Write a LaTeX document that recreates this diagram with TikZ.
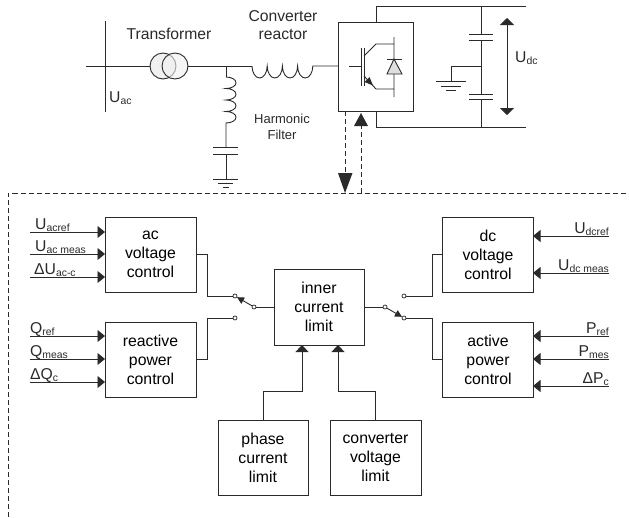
\documentclass[tikz,border=0pt]{standalone}
\usepackage{fontspec}
\setmainfont{Liberation Sans}
\usetikzlibrary{arrows.meta,calc}
\definecolor{ink}{HTML}{2A2A2A}
\tikzset{
 x=1pt,y=-1pt,
 wire/.style={draw=ink,line width=0.9pt},
 ctrl/.style={draw=ink,line width=1pt,minimum width=91pt,minimum height=75pt,inner sep=0pt,align=center,font=\fontsize{15.8}{19}\selectfont},
 lab/.style={inner sep=0pt,font=\fontsize{15.7}{18}\selectfont,align=center,text=ink},
 sig/.style={inner sep=0pt,font=\fontsize{15.7}{19}\selectfont,text=ink},
 inarrow/.style={wire,-{Triangle[length=7.5pt,width=12pt]}},
 dashline/.style={draw=ink,line width=0.9pt,dash pattern=on 5pt off 3pt},
 term/.style={circle,draw=ink,line width=0.7pt,fill=white,inner sep=0pt,minimum size=4pt},
}
\newcommand{\sbs}[1]{\raisebox{-2pt}{\fontsize{10.4}{12}\selectfont #1}}
\begin{document}
\begin{tikzpicture}
\useasboundingbox (0,0) rectangle (629,517);
% power circuit
\draw[wire,line width=1pt] (105,21) -- (105,112);
\draw[wire] (86,66) -- (150,66);
\draw[wire,fill=gray!12] (163,66) circle (13);
\draw[wire,fill=gray!12,fill opacity=.6] (175,66) circle (13);
\draw[wire] (188,66) -- (252,66);
\draw[wire] (252,66) arc[start angle=180,end angle=0,x radius=7.6,y radius=12]
 arc[start angle=180,end angle=0,x radius=7.6,y radius=12]
 arc[start angle=180,end angle=0,x radius=7.6,y radius=12]
 arc[start angle=180,end angle=0,x radius=7.6,y radius=12] -- (338,66);
\draw[wire] (226,66) -- (226,77);
\draw[wire] (226,77) arc[start angle=-90,end angle=90,x radius=10,y radius=5.75]
 arc[start angle=-90,end angle=90,x radius=10,y radius=5.75]
 arc[start angle=-90,end angle=90,x radius=10,y radius=5.75]
 arc[start angle=-90,end angle=90,x radius=10,y radius=5.75] -- (226,147);
\draw[wire] (213,147) -- (238,147) (213,154) -- (238,154) (226,154) -- (226,179);
\draw[wire] (213,179) -- (238,179) (218,183) -- (233,183) (223,187) -- (229,187);
\node[lab,anchor=center] at (169,34) {Transformer};
\node[lab,anchor=center] at (283,25) {Converter\\reactor};
\node[lab,anchor=base west] at (109,102) {U\sbs{ac}};
\node[lab,font=\fontsize{13}{16}\selectfont] at (282,127) {Harmonic\\Filter};
% converter
\node[draw=ink,line width=1pt,minimum width=75pt,minimum height=89pt,inner sep=0pt] (conv) at (375.5,66.5) {};
\draw[wire] (376,22) -- (376,6) -- (526,6);
\draw[wire] (376,111) -- (376,127) -- (526,127);
\draw[wire] (481,6) -- (481,34) (469,34) -- (493,34) (469,40) -- (493,40) (481,40) -- (481,94)
 (469,94) -- (493,94) (469,99) -- (493,99) (481,99) -- (481,127);
\draw[wire] (481,66) -- (451,66) -- (451,81) (436,81) -- (466,81) (441,86) -- (461,86) (446,90) -- (456,90);
\draw[wire,{Triangle[length=7pt,width=14pt]}-{Triangle[length=7pt,width=14pt]}] (507,18) -- (507,115);
\node[sig,anchor=base west] at (515,62) {U\sbs{dc}};
% IGBT
\draw[wire] (349,66) -- (361,66) (361,48) -- (361,86) (364,48) -- (364,86);
\draw[wire] (364,56) -- (376,44) -- (394,44) (364,76) -- (376,89) -- (394,89) (394,37) -- (394,97);
\fill[ink] (373,85.5) -- (364.5,82) -- (369.5,77) -- cycle;
\draw[wire,fill=gray!25] (394,59) -- (402,74) -- (387,74) -- cycle;
\draw[wire] (387,59) -- (402,59);
% dashed links
\draw[dashline] (8,517) -- (8,193.5) -- (629,193.5);
\draw[dashline] (345,111) -- (345,176);
\fill[ink] (345,193) -- (338,173) -- (352.5,173) -- cycle;
\draw[dashline] (361,193) -- (361,125);
\fill[ink] (361,113) -- (354,126) -- (368,126) -- cycle;
% control blocks
\node[ctrl] (acv) at (150.5,254.5) {ac\\voltage\\control};
\node[ctrl] (rpc) at (150.5,359.5) {reactive\\power\\control};
\node[ctrl] (dcv) at (488,254.5) {dc\\voltage\\control};
\node[ctrl] (apc) at (488,359.5) {active\\power\\control};
\node[ctrl,minimum width=90pt,minimum height=76pt] (icl) at (319,307) {inner\\current\\limit};
\node[ctrl,minimum width=90pt] (pcl) at (263,457.5) {phase\\current\\limit};
\node[ctrl] (cvl) at (375.5,457.5) {converter\\voltage\\limit};
% inputs
\foreach \y in {232,254,277,336,359,382} \draw[inarrow] (30,\y) -- (105,\y);
\foreach \y in {236,273,336,359,386} \draw[inarrow] (609,\y) -- (533,\y);
\node[sig,anchor=base west] at (35,229) {U\sbs{acref}};
\node[sig,anchor=base west] at (35,251) {U\sbs{ac meas}};
\node[sig,anchor=base west] at (34,274) {ΔU\sbs{ac-c}};
\node[sig,anchor=base west] at (30,333) {Q\sbs{ref}};
\node[sig,anchor=base west] at (30,356) {Q\sbs{meas}};
\node[sig,anchor=base west] at (30,379) {ΔQ\sbs{c}};
\node[sig,anchor=base east] at (609,233) {U\sbs{dcref}};
\node[sig,anchor=base east] at (609,270) {U\sbs{dc meas}};
\node[sig,anchor=base east] at (609,333) {P\sbs{ref}};
\node[sig,anchor=base east] at (609,356) {P\sbs{mes}};
\node[sig,anchor=base east] at (609,383) {ΔP\sbs{c}};
% switches
\node[term] (la) at (235,296) {};
\node[term] (lb) at (235,318) {};
\node[term] (lc) at (254,307) {};
\node[term] (ra) at (404,296) {};
\node[term] (rb) at (404,318) {};
\node[term] (rc) at (385,307) {};
\draw[wire] (acv.east |- 0,254) -- (207,254) -- (207,296) -- (la);
\draw[wire] (rpc.east |- 0,359) -- (207,359) -- (207,318) -- (lb);
\draw[wire] (lc) -- (icl.west |- lc);
\draw[wire,-{Triangle[length=7pt,width=7pt]}] (lc) -- (la);
\draw[wire] (dcv.west |- 0,254) -- (432,254) -- (432,296) -- (ra);
\draw[wire] (apc.west |- 0,359) -- (432,359) -- (432,318) -- (rb);
\draw[wire] (rc) -- (icl.east |- rc);
\draw[wire,-{Triangle[length=7pt,width=7pt]}] (rc) -- (rb);
\draw[wire,-{Triangle[length=7pt,width=13pt]}] (pcl.north) -- (263,391) -- (302,391) -- (302,345);
\draw[wire,-{Triangle[length=7pt,width=13pt]}] (cvl.north) -- (375.5,391) -- (338,391) -- (338,345);
\end{tikzpicture}
\end{document}
